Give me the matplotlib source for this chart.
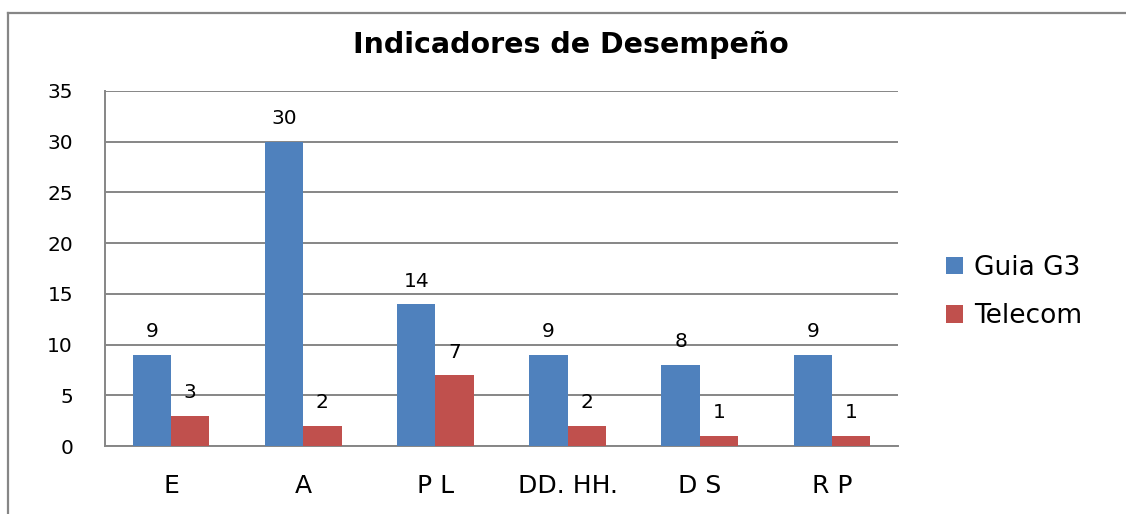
import matplotlib
matplotlib.use("Agg")
import matplotlib.pyplot as plt
import numpy as np
from matplotlib.lines import Line2D

# datos del grafico
categorias = ["E", "A", "P L", "DD. HH.", "D S", "R P"]
guia_g3 = [9, 30, 14, 9, 8, 9]
telecom = [3, 2, 7, 2, 1, 1]
series_nombres = ["Guia G3", "Telecom"]
y_ticks = [0, 5, 10, 15, 20, 25, 30, 35]

azul = "#4F81BD"
rojo = "#C0504D"
gris = "#868686"

W, H = 1126, 514
fig = plt.figure(figsize=(W / 100, H / 100), dpi=100)
ax = fig.add_axes([105 / W, 1 - 446 / H, (898 - 105) / W, (446 - 91) / H])

x = np.arange(len(categorias))
ancho = 0.29
b1 = ax.bar(x - ancho / 2, guia_g3, ancho, color=azul, label=series_nombres[0], zorder=3)
b2 = ax.bar(x + ancho / 2, telecom, ancho, color=rojo, label=series_nombres[1], zorder=3)

for barras in (b1, b2):
    for b in barras:
        ax.annotate(str(int(b.get_height())),
                    (b.get_x() + b.get_width() / 2, b.get_height()),
                    xytext=(0, 16.5), textcoords="offset points",
                    ha="center", va="center", fontsize=14.5, color="black")

ax.set_xlim(-0.5, len(categorias) - 0.5)
ax.set_ylim(0, 35)
ax.set_yticks(y_ticks)
ax.set_xticks(x)
ax.set_xticklabels(categorias, fontsize=18)
ax.tick_params(axis="y", labelsize=14.5, length=0, pad=23)
ax.tick_params(axis="x", length=0, pad=20)
ax.grid(axis="y", color=gris, linewidth=1.4, zorder=0)
for s in ["top", "right"]:
    ax.spines[s].set_visible(False)
for s in ["left", "bottom"]:
    ax.spines[s].set_color(gris)
    ax.spines[s].set_linewidth(1.4)

fig.text(571 / W, 1 - 53 / H, "Indicadores de Desempeño", ha="center",
         va="baseline", fontsize=20.5, fontweight="bold")

fig.legend(handles=[b1, b2], labels=series_nombres, loc="center left",
           bbox_to_anchor=(946 / W, 1 - 292 / H), frameon=False, fontsize=19,
           handlelength=0.65, handleheight=0.65, handletextpad=0.4,
           labelspacing=0.85, borderpad=0, borderaxespad=0)

# marco exterior (solo lados izquierdo y superior visibles)
fig.add_artist(Line2D([8 / W, 8 / W], [0, 1 - 13 / H], color=gris, lw=1.6,
                      transform=fig.transFigure))
fig.add_artist(Line2D([8 / W, 1], [1 - 13 / H, 1 - 13 / H], color=gris, lw=1.6,
                      transform=fig.transFigure))

fig.savefig("out.png", dpi=100)
